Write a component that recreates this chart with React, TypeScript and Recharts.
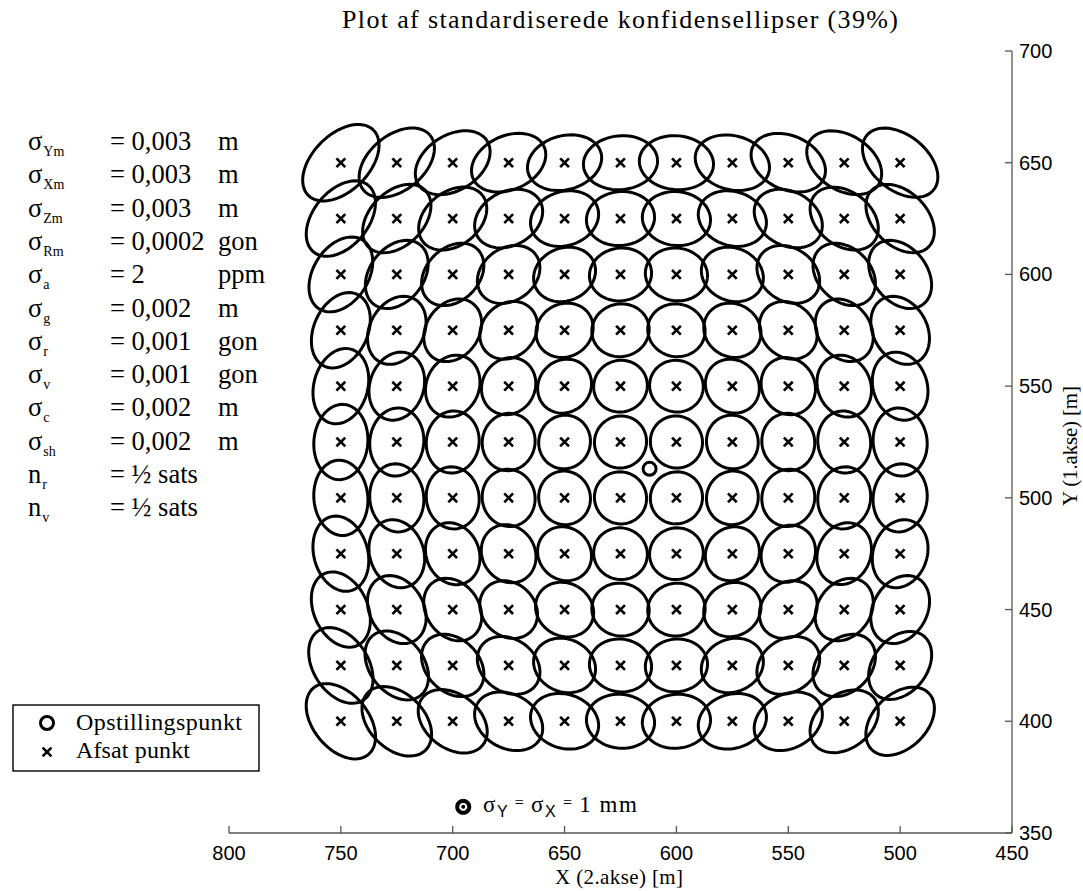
import React, { useMemo } from "react";
import { ComposedChart, Scatter, XAxis, YAxis } from "recharts";

// set-out grid (X = 2. akse, Y = 1. akse), metres
const gridX = [500, 525, 550, 575, 600, 625, 650, 675, 700, 725, 750];
const gridY = [400, 425, 450, 475, 500, 525, 550, 575, 600, 625, 650];
const stationPoint = [{ x: 612, y: 513 }];

// standardised ellipse semi-axes in mm, rows follow gridY, columns follow gridX
// tangential = across the line of sight from the station, radial = along it
const tangentialMm = [
  [6.7, 6.3, 6.0, 5.8, 5.7, 5.7, 5.8, 6.0, 6.4, 6.8, 7.2],
  [6.3, 5.9, 5.6, 5.3, 5.2, 5.2, 5.3, 5.6, 5.9, 6.4, 6.9],
  [6.0, 5.6, 5.2, 4.9, 4.8, 4.8, 5.0, 5.2, 5.6, 6.0, 6.6],
  [5.8, 5.3, 4.9, 4.7, 4.5, 4.5, 4.7, 5.0, 5.3, 5.8, 6.4],
  [5.7, 5.2, 4.8, 4.5, 4.4, 4.4, 4.5, 4.8, 5.2, 5.7, 6.3],
  [5.7, 5.2, 4.8, 4.5, 4.4, 4.4, 4.5, 4.8, 5.2, 5.7, 6.3],
  [5.8, 5.3, 4.9, 4.7, 4.5, 4.5, 4.7, 4.9, 5.3, 5.8, 6.4],
  [6.0, 5.6, 5.2, 4.9, 4.8, 4.8, 4.9, 5.2, 5.6, 6.0, 6.6],
  [6.3, 5.9, 5.6, 5.3, 5.2, 5.2, 5.3, 5.6, 5.9, 6.3, 6.8],
  [6.7, 6.3, 6.0, 5.8, 5.7, 5.7, 5.8, 6.0, 6.3, 6.7, 7.2],
  [7.2, 6.8, 6.5, 6.3, 6.2, 6.2, 6.3, 6.5, 6.8, 7.2, 7.7],
];
const radialMm = [
  [4.5, 4.5, 4.5, 4.5, 4.5, 4.5, 4.5, 4.5, 4.5, 4.6, 4.6],
  [4.5, 4.4, 4.4, 4.4, 4.4, 4.4, 4.4, 4.4, 4.4, 4.5, 4.6],
  [4.5, 4.4, 4.4, 4.4, 4.4, 4.4, 4.4, 4.4, 4.4, 4.5, 4.5],
  [4.5, 4.4, 4.4, 4.3, 4.3, 4.3, 4.3, 4.4, 4.4, 4.5, 4.5],
  [4.5, 4.4, 4.4, 4.3, 4.3, 4.3, 4.3, 4.4, 4.4, 4.5, 4.5],
  [4.5, 4.4, 4.4, 4.3, 4.3, 4.3, 4.3, 4.4, 4.4, 4.5, 4.5],
  [4.5, 4.4, 4.4, 4.3, 4.3, 4.3, 4.3, 4.4, 4.4, 4.5, 4.5],
  [4.5, 4.4, 4.4, 4.4, 4.4, 4.4, 4.4, 4.4, 4.4, 4.5, 4.5],
  [4.5, 4.4, 4.4, 4.4, 4.4, 4.4, 4.4, 4.4, 4.4, 4.5, 4.6],
  [4.5, 4.5, 4.5, 4.5, 4.5, 4.5, 4.5, 4.5, 4.5, 4.5, 4.6],
  [4.6, 4.6, 4.5, 4.5, 4.5, 4.5, 4.5, 4.5, 4.6, 4.6, 4.7],
];

// scale symbol: sigma_Y = sigma_X = 1 mm
const scaleSymbol = { x: 695.3, y: 361.7, sigmaMm: 1 };

const xTicks = [800, 750, 700, 650, 600, 550, 500, 450];
const yTicks = [350, 400, 450, 500, 550, 600, 650, 700];

const paramSymbols = ["σ", "σ", "σ", "σ", "σ", "σ", "σ", "σ", "σ", "σ", "n", "n"];
const paramSubs = ["Ym", "Xm", "Zm", "Rm", "a", "g", "r", "v", "c", "sh", "r", "v"];
const paramValues = ["= 0,003", "= 0,003", "= 0,003", "= 0,0002", "= 2", "= 0,002", "= 0,001", "= 0,001", "= 0,002", "= 0,002", "= ½ sats", "= ½ sats"];
const paramUnits = ["m", "m", "m", "gon", "ppm", "m", "gon", "gon", "m", "m", "", ""];

const MM_TO_PLOT = 2.68; // plot metres per mm of sigma
const SERIF = "'Liberation Serif', 'Times New Roman', serif";
const SANS = "'Liberation Sans', Arial, sans-serif";
const AXIS = "#555";

function ellipseOutline(cx: number, cy: number, a: number, b: number, ux: number, uy: number) {
  // a across (ux, uy) (tangential), b along (ux, uy) (radial)
  const tx = -uy;
  const ty = ux;
  const pts = [];
  const n = 64;
  for (let k = 0; k <= n; k++) {
    const t = (2 * Math.PI * k) / n;
    const p = a * Math.cos(t) * MM_TO_PLOT;
    const q = b * Math.sin(t) * MM_TO_PLOT;
    pts.push({ x: cx + p * tx + q * ux, y: cy + p * ty + q * uy });
  }
  return pts;
}

const XTick = ({ x, y, payload }: any) => (
  <g>
    <line x1={x} x2={x} y1={y} y2={y - 7} stroke={AXIS} strokeWidth={1.3} />
    <text x={x} y={y + 27} textAnchor="middle" fontFamily={SANS} fontSize={20} fill="#000">
      {payload.value}
    </text>
  </g>
);

const YTick = ({ x, y, payload }: any) => (
  <g>
    <line x1={x} x2={x - 7} y1={y} y2={y} stroke={AXIS} strokeWidth={1.3} />
    <text x={x + 7} y={y + 7} textAnchor="start" fontFamily={SANS} fontSize={20} fill="#000">
      {payload.value}
    </text>
  </g>
);

const Cross = ({ cx, cy }: any) => (
  <g stroke="#000" strokeWidth={2.6} strokeLinecap="square">
    <line x1={cx - 3.5} y1={cy - 3.5} x2={cx + 3.5} y2={cy + 3.5} />
    <line x1={cx - 3.5} y1={cy + 3.5} x2={cx + 3.5} y2={cy - 3.5} />
  </g>
);

const Ring = ({ cx, cy }: any) => (
  <circle cx={cx} cy={cy} r={6.5} fill="#fff" stroke="#000" strokeWidth={3} />
);

const Dot = ({ cx, cy }: any) => <circle cx={cx} cy={cy} r={2} fill="#000" />;

export default function App() {
  const setOutPoints = useMemo(() => {
    const pts: { x: number; y: number; row: number; col: number }[] = [];
    gridY.forEach((y, row) => gridX.forEach((x, col) => pts.push({ x, y, row, col })));
    return pts;
  }, []);

  const ellipses = useMemo(
    () =>
      setOutPoints.map((p) => {
        const dx = p.x - stationPoint[0].x;
        const dy = p.y - stationPoint[0].y;
        const d = Math.hypot(dx, dy) || 1;
        return ellipseOutline(p.x, p.y, tangentialMm[p.row][p.col], radialMm[p.row][p.col], dx / d, dy / d);
      }),
    [setOutPoints]
  );

  const scaleOutline = useMemo(
    () => ellipseOutline(scaleSymbol.x, scaleSymbol.y, scaleSymbol.sigmaMm, scaleSymbol.sigmaMm, 1, 0),
    []
  );

  return (
    <div style={{ position: "absolute", left: 0, top: 0, width: 1083, height: 891, background: "#fff" }}>
      <ComposedChart width={1083} height={891} margin={{ top: 51, right: 0, bottom: 0, left: 229 }}>
        <XAxis
          type="number"
          dataKey="x"
          domain={[450, 800]}
          reversed
          ticks={xTicks}
          interval={0}
          height={58}
          tickSize={0}
          tickMargin={0}
          tickLine={false}
          tick={(p: any) => <XTick {...p} />}
          axisLine={{ stroke: AXIS, strokeWidth: 1.3 }}
          allowDataOverflow
        />
        <YAxis
          type="number"
          dataKey="y"
          orientation="right"
          domain={[350, 700]}
          ticks={yTicks}
          interval={0}
          width={71}
          tickSize={0}
          tickMargin={0}
          tickLine={false}
          tick={(p: any) => <YTick {...p} />}
          axisLine={{ stroke: AXIS, strokeWidth: 1.3 }}
          allowDataOverflow
        />
        {ellipses.map((e, i) => (
          <Scatter
            key={i}
            data={e}
            line={{ stroke: "#000", strokeWidth: 3 }}
            lineJointType="linear"
            shape={() => <g />}
            isAnimationActive={false}
          />
        ))}
        <Scatter data={setOutPoints} shape={(p: any) => <Cross cx={p.cx} cy={p.cy} />} isAnimationActive={false} />
        <Scatter data={stationPoint} shape={(p: any) => <Ring cx={p.cx} cy={p.cy} />} isAnimationActive={false} />
        <Scatter
          data={scaleOutline}
          line={{ stroke: "#000", strokeWidth: 4 }}
          lineJointType="linear"
          shape={() => <g />}
          isAnimationActive={false}
        />
        <Scatter data={[scaleSymbol]} shape={(p: any) => <Dot cx={p.cx} cy={p.cy} />} isAnimationActive={false} />
      </ComposedChart>

      <svg width={1083} height={891} style={{ position: "absolute", left: 0, top: 0, pointerEvents: "none" }} fontFamily={SERIF} fill="#000">
        <text x={620} y={28} textAnchor="middle" fontSize={26} textLength={556} lengthAdjust="spacing">
          Plot af standardiserede konfidensellipser (39%)
        </text>

        {paramSubs.map((sub, i) => (
          <g key={i} fontSize={26.5}>
            <text x={28} y={150 + i * 33.3}>
              {paramSymbols[i]}
              <tspan fontSize={14} dx={1} dy={6}>{sub}</tspan>
            </text>
            <text x={110} y={150 + i * 33.3}>{paramValues[i]}</text>
            <text x={218} y={150 + i * 33.3}>{paramUnits[i]}</text>
          </g>
        ))}

        <rect x={13} y={705} width={246} height={66} fill="#fff" stroke="#000" strokeWidth={1.4} />
        <Ring cx={47} cy={723} />
        <Cross cx={47} cy={752} />
        <text x={76} y={730} fontSize={24} textLength={166} lengthAdjust="spacing">Opstillingspunkt</text>
        <text x={76} y={758} fontSize={24} textLength={114} lengthAdjust="spacing">Afsat punkt</text>

        <text x={483} y={812} fontSize={23} textLength={154} lengthAdjust="spacing">
          σ<tspan fontFamily={SANS} fontSize={16} dy={5}>Y</tspan>
          <tspan fontSize={16} dy={-9}> = </tspan>
          <tspan dy={4}>σ</tspan>
          <tspan fontFamily={SANS} fontSize={16} dy={5}>X</tspan>
          <tspan fontSize={16} dy={-9}> = </tspan>
          <tspan dy={4}>1 mm</tspan>
        </text>

        <text x={619} y={884} textAnchor="middle" fontSize={21} textLength={128} lengthAdjust="spacing">
          X (2.akse) [m]
        </text>
        <text transform="translate(1077,446) rotate(-90)" textAnchor="middle" fontSize={21} textLength={120} lengthAdjust="spacing">
          Y (1.akse) [m]
        </text>
      </svg>
    </div>
  );
}
